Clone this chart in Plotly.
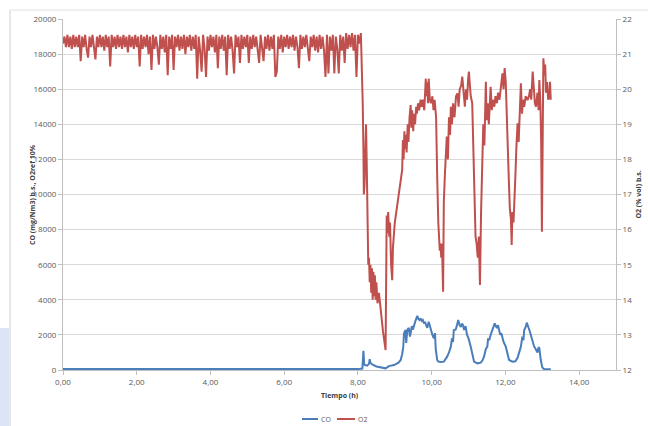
import plotly.graph_objects as go

# ---------------- data ----------------
# O2 (% vol) b.s. — dense stable section, one sample every 0.04 h from t = 0
o2_seg1_step = 0.04
o2_seg1 = [
    21.3, 21.5, 21.2, 21.55, 21.2, 21.5, 21.15, 21.55, 21.2, 21.5,
    21.2, 21.55, 20.8, 21.5, 21.2, 21.55, 21.15, 20.9, 21.5, 21.2,
    21.55, 21.15, 20.85, 21.5, 21.2, 21.55, 21.2, 21.5, 21.1, 21.55,
    21.2, 21.5, 20.65, 21.55, 21.2, 21.5, 21.15, 21.55, 21.2, 21.5,
    21.15, 21.55, 21.2, 21.5, 21.05, 21.55, 21.2, 21.5, 21.15, 21.55,
    21.2, 21.5, 20.65, 21.55, 21.15, 21.5, 21.2, 21.55, 21.0, 21.5,
    20.55, 21.55, 21.15, 21.5, 21.2, 20.7, 21.55, 21.15, 21.5, 21.05,
    21.55, 20.4, 21.5, 21.15, 21.55, 20.55, 21.5, 21.2, 21.55, 21.1,
    21.5, 21.15, 21.55, 21.0, 21.5, 21.2, 21.55, 21.1, 21.5, 21.15,
    21.55, 20.3, 21.5, 21.1, 20.5, 21.55, 21.15, 20.35, 21.5, 21.1,
    21.55, 21.2, 21.5, 21.05, 21.55, 20.6, 21.5, 21.15, 21.55, 21.1,
    21.5, 20.4, 21.55, 21.15, 21.5, 21.1, 20.45, 21.55, 21.2, 21.5,
    20.75, 21.55, 21.15, 21.5, 21.2, 21.55, 20.75, 21.5, 21.15, 21.55,
    21.2, 21.5, 21.15, 20.75, 21.55, 21.2, 20.8, 21.5, 21.15, 21.55,
    21.1, 21.5, 21.15, 21.55, 20.35, 20.5, 21.5, 21.15, 21.55, 21.05,
    21.5, 21.2, 21.55, 21.15, 21.5, 21.2, 21.55, 21.1, 21.5, 21.2,
    20.6, 21.55, 21.15, 21.5, 21.2, 21.55, 21.1, 20.8, 21.5, 21.2,
    21.55, 21.1, 21.5, 21.05, 21.55, 21.15, 21.5, 21.1, 20.35, 21.55,
    20.45, 21.5, 21.1, 21.55, 20.45, 21.5, 21.15, 20.45, 21.55, 21.1,
    21.5, 20.75, 21.6, 21.15, 21.55, 21.2, 21.6, 21.1, 21.55, 20.35,
    21.55, 21.3,
]

# O2 — unstable section (time in h, value in %)
o2_seg2_t = [
    8.08, 8.10, 8.12, 8.13, 8.15, 8.16, 8.18, 8.20, 8.22, 8.24, 8.26, 8.28,
    8.30, 8.32, 8.34, 8.36, 8.38, 8.40, 8.42, 8.44, 8.46, 8.48, 8.50, 8.53,
    8.57, 8.62, 8.68, 8.75, 8.78, 8.80, 8.82, 8.85, 8.87, 8.90, 8.93, 8.95,
    9.00, 9.08, 9.15, 9.20, 9.22, 9.24, 9.26, 9.28, 9.30, 9.32, 9.35, 9.37,
    9.40, 9.43, 9.45, 9.47, 9.50, 9.52, 9.55, 9.58, 9.60, 9.63, 9.66, 9.70,
    9.73, 9.76, 9.80, 9.82, 9.84, 9.86, 9.88, 9.90, 9.92, 9.95, 9.98, 10.02,
    10.05, 10.08, 10.12, 10.15, 10.18, 10.22, 10.24, 10.26, 10.28, 10.31, 10.33, 10.36,
    10.40, 10.41, 10.44, 10.47, 10.50, 10.52, 10.55, 10.58, 10.62, 10.66, 10.70, 10.73,
    10.76, 10.80, 10.83, 10.86, 10.90, 10.93, 10.96, 10.99, 11.01, 11.03, 11.06, 11.10,
    11.13, 11.16, 11.19, 11.22, 11.25, 11.28, 11.31, 11.34, 11.38, 11.40, 11.43, 11.47,
    11.49, 11.52, 11.55, 11.58, 11.60, 11.63, 11.66, 11.70, 11.73, 11.77, 11.80, 11.84,
    11.88, 11.92, 11.95, 11.98, 12.01, 12.03, 12.06, 12.09, 12.12, 12.15, 12.17, 12.19,
    12.22, 12.24, 12.27, 12.30, 12.33, 12.36, 12.39, 12.42, 12.45, 12.48, 12.51, 12.55,
    12.60, 12.64, 12.67, 12.70, 12.74, 12.77, 12.80, 12.83, 12.87, 12.90, 12.92, 12.95,
    12.97, 12.99, 13.01, 13.03, 13.06, 13.08, 13.10, 13.13, 13.16, 13.19, 13.21, 13.23,
]
o2_seg2 = [
    21.6, 21.0, 20.2, 19.6, 18.2, 17.0, 17.3, 18.2, 19.0, 17.8, 16.8, 15.0,
    15.2, 14.5, 15.0, 14.2, 14.9, 14.0, 14.8, 14.1, 14.7, 14.0, 14.5, 13.9,
    14.2, 13.6, 13.1, 12.57, 16.4, 15.9, 16.5, 15.8, 16.2, 15.0, 14.56, 15.5,
    16.2, 16.8, 17.4, 17.7, 18.55, 18.0, 18.8, 18.3, 18.7, 18.2, 19.0, 18.5,
    19.2, 19.55, 18.9, 19.4, 18.8, 19.3, 19.0, 19.5, 19.3, 19.6, 19.4, 19.7,
    19.5, 19.7, 19.4, 19.9, 20.3, 19.8, 20.2, 19.6, 20.3, 19.7, 19.6, 19.8,
    19.4, 19.7, 19.2, 17.5, 16.2, 15.4, 15.6, 15.2, 15.6, 14.23, 16.8, 17.6,
    18.3, 18.65, 18.0, 19.2, 18.7, 19.5, 19.0, 19.6, 19.2, 19.8, 19.88, 19.5,
    20.0, 20.1, 20.36, 19.9, 19.5, 20.0, 19.7, 20.3, 20.5, 20.2, 19.8, 19.6,
    18.5, 17.0, 15.8, 15.6, 15.2, 15.8, 14.42, 16.5, 18.6, 19.0, 18.4, 20.21,
    19.12, 19.6, 19.0, 19.8, 20.07, 19.4, 19.7, 19.5, 19.8, 19.6, 19.9, 19.7,
    20.2, 20.45, 20.0, 20.6, 20.2, 19.3, 18.5, 17.5, 16.6, 16.3, 15.56, 16.5,
    16.2, 16.6, 17.5, 18.4, 19.03, 18.5, 19.4, 20.17, 19.3, 19.7, 19.5, 19.8,
    19.69, 19.8, 20.0, 19.7, 20.5, 19.9, 19.6, 19.5, 19.9, 19.4, 20.26, 19.6,
    18.5, 15.94, 19.5, 20.88, 20.4, 20.7, 19.9, 20.2, 19.7, 19.8, 20.21, 19.7,
]

# CO (mg/Nm3) b.s., O2ref 10%
co_t = [
    0.0, 1.0, 2.0, 3.0, 4.0, 5.0, 6.0, 7.0, 8.0, 8.12, 8.15, 8.17,
    8.25, 8.30, 8.32, 8.34, 8.40, 8.50, 8.61, 8.75, 8.84, 8.98, 9.10, 9.16,
    9.20, 9.23, 9.25, 9.29, 9.31, 9.34, 9.38, 9.41, 9.43, 9.46, 9.49, 9.52,
    9.56, 9.61, 9.64, 9.67, 9.70, 9.73, 9.76, 9.79, 9.82, 9.85, 9.88, 9.92,
    9.97, 10.02, 10.06, 10.09, 10.11, 10.15, 10.18, 10.25, 10.33, 10.38, 10.42, 10.47,
    10.52, 10.55, 10.58, 10.60, 10.65, 10.68, 10.72, 10.75, 10.79, 10.82, 10.85, 10.88,
    10.92, 10.96, 11.00, 11.06, 11.10, 11.15, 11.24, 11.33, 11.38, 11.42, 11.47, 11.51,
    11.53, 11.56, 11.60, 11.65, 11.71, 11.74, 11.77, 11.80, 11.83, 11.86, 11.89, 11.92,
    11.95, 12.01, 12.05, 12.10, 12.19, 12.27, 12.33, 12.38, 12.42, 12.46, 12.49, 12.51,
    12.55, 12.58, 12.62, 12.65, 12.69, 12.74, 12.78, 12.82, 12.87, 12.90, 12.92, 12.96,
    13.00, 13.05, 13.23,
]
co = [
    50, 45, 50, 45, 50, 45, 50, 45, 50, 80, 1100, 300,
    250, 350, 620, 400, 300, 200, 150, 95, 220, 280, 420, 570,
    900, 1330, 2090, 2280, 1540, 2300, 2400, 1900, 2100, 2500, 2300, 2560,
    2800, 3080, 2900, 2850, 2940, 2800, 2850, 2660, 2750, 2550, 2400, 2750,
    2280, 2000, 1800, 2100, 1200, 570, 480, 450, 475, 600, 760, 1000,
    1330, 1800, 1600, 2280, 2300, 2500, 2850, 2600, 2450, 2650, 2550, 2280,
    2500, 1995, 1800, 1330, 900, 475, 380, 420, 550, 760, 1200, 1330,
    1800, 1700, 2000, 2300, 2660, 2500, 2400, 2550, 2300, 2000, 2100, 1850,
    1600, 1330, 900, 570, 475, 500, 700, 1000, 1330, 1900, 1700, 2280,
    2450, 2700, 2500, 2280, 1995, 1600, 1330, 1200, 1000, 1300, 1250, 570,
    150, 40, 40,
]

x_tick_vals = [0, 2, 4, 6, 8, 10, 12, 14]
series_names = ["CO", "O2"]

# ---------------- figure ----------------
o2_t = [i * o2_seg1_step for i in range(len(o2_seg1))] + o2_seg2_t
o2_v = o2_seg1 + o2_seg2

RED = "#c0504d"
BLUE = "#4a7ebb"
TXT = "#595959"
FONT = "Open Sans"

fig = go.Figure()
fig.add_trace(go.Scatter(x=co_t, y=co, name=series_names[0], mode="lines",
                         line=dict(color=BLUE, width=2), yaxis="y",
                         showlegend=False))
fig.add_trace(go.Scatter(x=o2_t, y=o2_v, name=series_names[1], mode="lines",
                         line=dict(color=RED, width=2), yaxis="y2",
                         showlegend=False))

# compact legend like the original (short line + label)
PW, PH = 553, 351
def px_x(p):
    return (p - 63) / PW
leg_y = (370 - 419) / PH
legend_shapes = [
    dict(type="line", xref="paper", yref="paper", x0=px_x(302), x1=px_x(318),
         y0=leg_y, y1=leg_y, line=dict(color=BLUE, width=2)),
    dict(type="line", xref="paper", yref="paper", x0=px_x(337), x1=px_x(355),
         y0=leg_y, y1=leg_y, line=dict(color=RED, width=2)),
]
legend_ann = [
    dict(text=series_names[0], xref="paper", yref="paper", x=px_x(319), y=leg_y,
         xanchor="left", yanchor="middle", showarrow=False,
         font=dict(size=7, color=TXT)),
    dict(text=series_names[1], xref="paper", yref="paper", x=px_x(356), y=leg_y,
         xanchor="left", yanchor="middle", showarrow=False,
         font=dict(size=7, color=TXT)),
]

fig.update_layout(
    width=648, height=426,
    margin=dict(l=63, r=32, t=19, b=56, autoexpand=False),
    paper_bgcolor="white", plot_bgcolor="white",
    separators=", ",
    font=dict(family=FONT, size=8, color=TXT),
    showlegend=False,
    xaxis=dict(range=[0, 15], tickvals=x_tick_vals, tickformat=".2f",
               showgrid=False, zeroline=False, showline=True,
               linecolor="#bfbfbf", linewidth=1, ticks="outside",
               ticklen=4, tickcolor="#bfbfbf", automargin=False,
               tickfont=dict(size=8, color=TXT)),
    yaxis=dict(range=[0, 20000], dtick=2000, tickformat="d",
               showgrid=True, gridcolor="#d9d9d9", gridwidth=1,
               zeroline=False, showline=True, linecolor="#bfbfbf",
               ticks="outside", ticklen=4, tickcolor="#bfbfbf",
               automargin=False, tickfont=dict(size=8, color=TXT)),
    yaxis2=dict(range=[12, 22], dtick=1, overlaying="y", side="right",
                showgrid=False, zeroline=False, showline=True,
                linecolor="#bfbfbf", ticks="outside", ticklen=4,
                tickcolor="#bfbfbf", automargin=False,
                tickfont=dict(size=8, color=TXT)),
    annotations=[
        dict(text="<b>CO (mg/Nm3) b.s., O2ref 10%</b>", xref="paper", yref="paper",
             x=-0.055, y=0.5, xanchor="center", yanchor="middle",
             textangle=-90, showarrow=False, font=dict(size=7, color="#404040")),
        dict(text="<b>O2 (% vol) b.s.</b>", xref="paper", yref="paper",
             x=1.04, y=0.5, xanchor="center", yanchor="middle",
             textangle=-90, showarrow=False, font=dict(size=7, color="#404040")),
        dict(text="<b>Tiempo (h)</b>", xref="paper", yref="paper",
             x=0.5, y=-0.072, xanchor="center", yanchor="middle",
             showarrow=False, font=dict(size=7, color="#404040")),
    ] + legend_ann,
    shapes=[
        dict(type="rect", xref="paper", yref="paper", layer="below",
             x0=-63/553, x1=-54/553, y0=-56/351, y1=-56/351 + 98/351,
             fillcolor="#dde4f7", line=dict(width=0)),
        dict(type="line", xref="paper", yref="paper",
             x0=-53/553, x1=-53/553, y0=-56/351, y1=1 + 9/351,
             line=dict(color="#d0d0d0", width=1)),
        dict(type="line", xref="paper", yref="paper",
             x0=-53/553, x1=1 + 32/553, y0=1 + 9/351, y1=1 + 9/351,
             line=dict(color="#e0e0e0", width=1)),
    ] + legend_shapes,
)

fig.write_html(
    "out.html",
    config={"displayModeBar": False},
    post_script="document.body.style.margin='0';document.body.style.overflow='hidden';",
)
